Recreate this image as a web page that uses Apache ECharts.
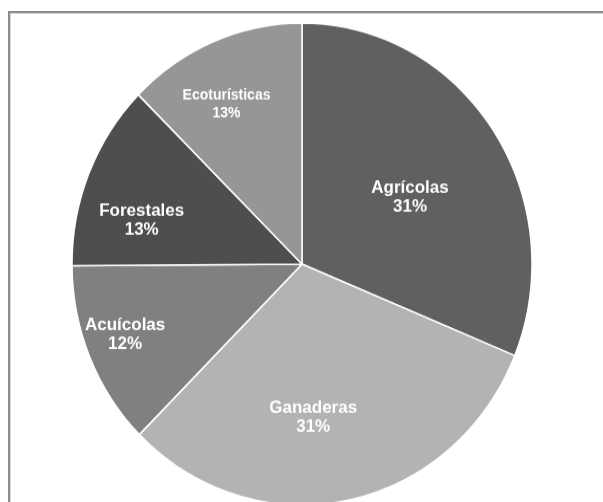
<!DOCTYPE html>
<html>
<head>
<meta charset="utf-8">
<script src="https://cdn.jsdelivr.net/npm/echarts@6/dist/echarts.min.js"></script>
<style>
  html, body { margin: 0; padding: 0; background: #fff; overflow: hidden; }
  #frame { position: absolute; left: 8px; top: 11px; width: 700px; height: 600px;
           border: 2px solid #8b8b8b; box-shadow: inset 1px 1px 0 #d6d6d6; }
  #wrap { position: absolute; left: 0; top: 0; width: 603px; height: 479px;
          transform: scaleY(1.048); transform-origin: 0 0; }
  #chart { width: 603px; height: 479px; }
</style>
</head>
<body>
<div id="frame"></div>
<div id="wrap"><div id="chart"></div></div>
<script>
// ---- data ----
const categories = ['Agrícolas', 'Ganaderas', 'Acuícolas', 'Forestales', 'Ecoturísticas'];
const values = [31.2, 31.3, 12.4, 12.5, 12.6];

// ---- styling ----
const sliceColors = ['#606060', '#b3b3b3', '#808080', '#4e4e4e', '#969696'];
const labelSizes = [17, 17, 17, 17, 14];
const labelLineHeights = [18, 18, 18, 18, 17];
const labelNudge = [[10, 2], [-12, 31], [-68, 22], [-51, 3], [-30, -43]];

const chart = echarts.init(document.getElementById('chart'), null, { renderer: 'canvas' });
chart.setOption({
  animation: false,
  backgroundColor: 'transparent',
  series: [{
    type: 'pie',
    center: [302, 252],
    radius: [0, 230],
    startAngle: 90,
    clockwise: true,
    avoidLabelOverlap: false,
    data: categories.map((name, i) => ({
      name: name,
      value: values[i],
      itemStyle: { color: sliceColors[i] },
      label: { fontSize: labelSizes[i], lineHeight: labelLineHeights[i] }
    })),
    itemStyle: { borderColor: '#ffffff', borderWidth: 1.5 },
    label: {
      show: true,
      position: 'inside',
      color: '#ffffff',
      fontFamily: 'Liberation Sans, Arial, sans-serif',
      fontWeight: 'bold',
      align: 'center',
      formatter: p => p.name + '\n' + Math.round(p.percent) + '%'
    },
    labelLine: { show: false },
    labelLayout: p => ({ dx: labelNudge[p.dataIndex][0], dy: labelNudge[p.dataIndex][1] }),
    emphasis: { disabled: true }
  }]
});
</script>
</body>
</html>
